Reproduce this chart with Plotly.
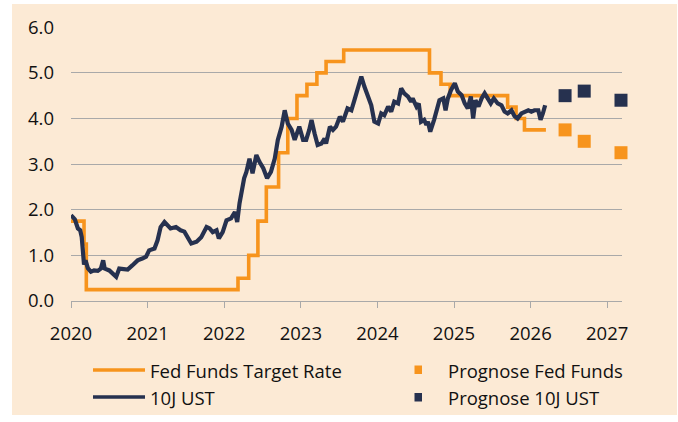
import plotly.graph_objects as go

# ---------------- data ----------------
# Fed Funds Target Rate (upper bound), step changes (decimal years)
ff_t = [2020.00, 2020.17, 2020.20, 2022.18, 2022.32, 2022.44, 2022.55, 2022.71,
        2022.83, 2022.95, 2023.08, 2023.21, 2023.33, 2023.56, 2024.68, 2024.83,
        2024.95, 2025.70, 2025.81, 2025.92, 2026.20]
ff_v = [1.75, 1.25, 0.25, 0.50, 1.00, 1.75, 2.50, 3.25,
        4.00, 4.50, 4.75, 5.00, 5.25, 5.50, 5.00, 4.75,
        4.50, 4.25, 4.00, 3.75, 3.75]

# 10J UST yield
ust_t = [2020.00, 2020.05, 2020.09, 2020.12, 2020.14, 2020.17, 2020.19, 2020.22, 2020.26, 2020.30,
         2020.35, 2020.39, 2020.42, 2020.44, 2020.50, 2020.54, 2020.59, 2020.63, 2020.70, 2020.74,
         2020.80, 2020.87, 2020.93, 2020.98, 2021.02, 2021.09, 2021.13, 2021.17, 2021.22, 2021.26,
         2021.30, 2021.37, 2021.43, 2021.48, 2021.53, 2021.57, 2021.64, 2021.70, 2021.77, 2021.81,
         2021.85, 2021.90, 2021.93, 2021.98, 2022.03, 2022.09, 2022.14, 2022.17, 2022.20, 2022.23,
         2022.26, 2022.29, 2022.33, 2022.37, 2022.42, 2022.46, 2022.51, 2022.56, 2022.61, 2022.66,
         2022.70, 2022.75, 2022.79, 2022.83, 2022.88, 2022.92, 2022.98, 2023.03, 2023.07, 2023.11,
         2023.14, 2023.18, 2023.22, 2023.27, 2023.31, 2023.33, 2023.38, 2023.42, 2023.46, 2023.51,
         2023.55, 2023.61, 2023.66, 2023.70, 2023.75, 2023.79, 2023.83, 2023.88, 2023.92, 2023.96,
         2024.01, 2024.05, 2024.09, 2024.14, 2024.18, 2024.22, 2024.27, 2024.31, 2024.35, 2024.40,
         2024.44, 2024.46, 2024.51, 2024.54, 2024.57, 2024.61, 2024.64, 2024.66, 2024.69, 2024.74,
         2024.77, 2024.81, 2024.86, 2024.89, 2024.92, 2024.96, 2025.01, 2025.05, 2025.10, 2025.14,
         2025.18, 2025.22, 2025.25, 2025.28, 2025.32, 2025.36, 2025.40, 2025.44, 2025.48, 2025.52,
         2025.57, 2025.62, 2025.66, 2025.70, 2025.75, 2025.79, 2025.83, 2025.88, 2025.92, 2025.97,
         2026.01, 2026.05, 2026.10, 2026.13, 2026.16, 2026.19]
ust_v = [1.88, 1.79, 1.59, 1.55, 1.40, 0.80, 0.89, 0.72, 0.64, 0.67,
         0.66, 0.71, 0.89, 0.71, 0.67, 0.61, 0.53, 0.71, 0.71, 0.69,
         0.78, 0.89, 0.93, 0.97, 1.11, 1.15, 1.33, 1.62, 1.73, 1.66,
         1.59, 1.62, 1.55, 1.52, 1.37, 1.26, 1.30, 1.40, 1.62, 1.59,
         1.51, 1.55, 1.37, 1.51, 1.77, 1.81, 1.95, 1.73, 2.14, 2.43,
         2.69, 2.83, 3.12, 2.80, 3.20, 3.05, 2.91, 2.69, 2.83, 3.12,
         3.53, 3.82, 4.18, 3.89, 3.75, 3.53, 3.82, 3.53, 3.53, 3.75,
         3.97, 3.67, 3.42, 3.45, 3.56, 3.45, 3.82, 3.75, 3.82, 4.04,
         3.93, 4.22, 4.18, 4.40, 4.66, 4.92, 4.70, 4.48, 4.29, 3.93,
         3.89, 4.11, 4.07, 4.26, 4.15, 4.37, 4.33, 4.66, 4.55, 4.48,
         4.37, 4.44, 4.26, 4.33, 3.93, 3.97, 3.86, 3.93, 3.71, 3.97,
         4.18, 4.40, 4.44, 4.18, 4.44, 4.62, 4.77, 4.59, 4.51, 4.33,
         4.22, 4.48, 4.00, 4.40, 4.26, 4.44, 4.55, 4.44, 4.33, 4.44,
         4.33, 4.29, 4.15, 4.11, 4.18, 4.05, 4.00, 4.11, 4.15, 4.18,
         4.15, 4.18, 4.18, 3.97, 4.11, 4.29]

# Forecasts
prog_t = [2026.45, 2026.70, 2027.18]
prog_ff = [3.75, 3.50, 3.25]
prog_ust = [4.50, 4.60, 4.40]

x_ticks = [2020, 2021, 2022, 2023, 2024, 2025, 2026, 2027]
x_labels = ["2020", "2021", "2022", "2023", "2024", "2025", "2026", "2027"]
y_ticks = [0, 1, 2, 3, 4, 5, 6]

legend_names = ["Fed Funds Target Rate", "10J UST", "Prognose Fed Funds", "Prognose 10J UST"]

# ---------------- style ----------------
ORANGE = "#F7941D"
NAVY = "#26314F"
BEIGE = "#FCEAD5"
GRID = "#A9A9A9"
FONT = "Open Sans"
FS = 18.5
W, H = 678, 422
L, R, T, B = 71, 56, 27, 121
PW, PH = W - L - R, H - T - B


def px_x(px):
    return (px - L) / PW


def px_y(py):
    return (H - B - py) / PH


fig = go.Figure()

fig.add_trace(go.Scatter(x=ff_t, y=ff_v, mode="lines", line=dict(color=ORANGE, width=3.6, shape="hv"),
                         name=legend_names[0], showlegend=False))
fig.add_trace(go.Scatter(x=ust_t, y=ust_v, mode="lines", line=dict(color=NAVY, width=4.2),
                         name=legend_names[1], showlegend=False))
fig.add_trace(go.Scatter(x=prog_t, y=prog_ff, mode="markers",
                         marker=dict(symbol="square", size=13, color=ORANGE, line=dict(width=0)),
                         name=legend_names[2], showlegend=False, cliponaxis=False))
fig.add_trace(go.Scatter(x=prog_t, y=prog_ust, mode="markers",
                         marker=dict(symbol="square", size=13, color=NAVY, line=dict(width=0)),
                         name=legend_names[3], showlegend=False, cliponaxis=False))

shapes = [
    # beige background panel
    dict(type="rect", xref="paper", yref="paper", x0=px_x(12), x1=px_x(677), y0=px_y(415), y1=px_y(4),
         fillcolor=BEIGE, line=dict(width=0), layer="below"),
    # legend samples
    dict(type="line", xref="paper", yref="paper", x0=px_x(93), x1=px_x(145), y0=px_y(370), y1=px_y(370),
         line=dict(color=ORANGE, width=3.5)),
    dict(type="line", xref="paper", yref="paper", x0=px_x(93), x1=px_x(145), y0=px_y(397), y1=px_y(397),
         line=dict(color=NAVY, width=3.5)),
    dict(type="rect", xref="paper", yref="paper", x0=px_x(414.5), x1=px_x(422), y0=px_y(374), y1=px_y(365.5),
         fillcolor=ORANGE, line=dict(width=0)),
    dict(type="rect", xref="paper", yref="paper", x0=px_x(414.5), x1=px_x(422), y0=px_y(401.5), y1=px_y(393),
         fillcolor=NAVY, line=dict(width=0)),
]

annotations = []
for txt, xp, yp in [(legend_names[0], 148, 370), (legend_names[1], 148, 397),
                    (legend_names[2], 446, 370), (legend_names[3], 446, 397)]:
    annotations.append(dict(text=txt, xref="paper", yref="paper", x=px_x(xp), y=px_y(yp),
                            xanchor="left", yanchor="middle", showarrow=False,
                            font=dict(family=FONT, size=FS, color="#111111")))

fig.update_layout(
    width=W, height=H,
    margin=dict(l=L, r=R, t=T, b=B, pad=0),
    paper_bgcolor="white",
    plot_bgcolor="rgba(0,0,0,0)",
    font=dict(family=FONT, size=FS, color="#111111"),
    showlegend=False,
    hovermode=False,
    shapes=shapes,
    annotations=annotations,
    xaxis=dict(range=[2020, 2020 + PW / 76.6], tickvals=x_ticks, ticktext=x_labels,
               showgrid=False, zeroline=False, showline=True, linecolor=GRID, linewidth=1,
               ticks="outside", ticklen=6, tickcolor=GRID, tickwidth=1, ticklabelstandoff=10,
               tickfont=dict(family=FONT, size=FS, color="#111111")),
    yaxis=dict(range=[0, 6.005], tickvals=y_ticks, tickformat=".1f",
               showgrid=True, gridcolor=GRID, gridwidth=1, zeroline=False, showline=False,
               ticks="", ticklabelstandoff=16,
               tickfont=dict(family=FONT, size=FS, color="#111111")),
)

fig.write_html("out.html",
               config={"displayModeBar": False, "staticPlot": True},
               post_script="document.body.style.margin='0';document.body.style.padding='0';")
